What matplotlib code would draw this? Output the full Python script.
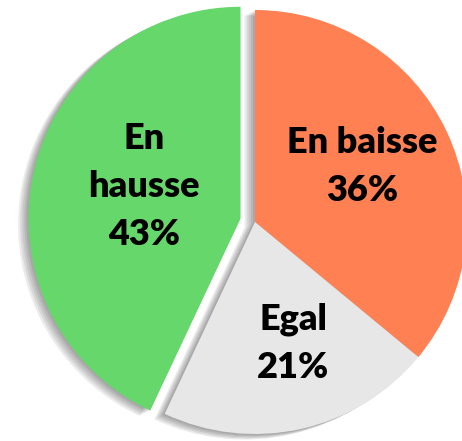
import matplotlib.pyplot as plt
import matplotlib.patheffects as pe
import numpy as np

labels = ['En baisse', 'Egal', 'En\nhausse']
values = [36, 21, 43]
colors = ['#FF8153', '#E7E7E7', '#66D76A']
explode = [0, 0, 0.07]
label_dist = [0.57, 0.6, 0.48]
label_turn = [2, 5, -6]  # degrees, nudges labels off the mid-angle

fig = plt.figure(figsize=(4.62, 4.41), dpi=100)
ax = fig.add_axes([0, 0, 1, 1])

shadow = [pe.SimplePatchShadow(offset=(-1.5 * k, -0.8 * k), shadow_rgbFace='black', alpha=0.08)
          for k in range(1, 6)] + [pe.Normal()]

wedges, _ = ax.pie(values, colors=colors, explode=explode, startangle=90,
                   counterclock=False, wedgeprops=dict(linewidth=0))
for w in wedges:
    w.set_path_effects(shadow)

for w, lab, v, d, t in zip(wedges, labels, values, label_dist, label_turn):
    ang = np.deg2rad((w.theta1 + w.theta2) / 2 + t)
    cx, cy = w.center
    ax.text(cx + d * np.cos(ang), cy + d * np.sin(ang), f'{lab}\n{v}%',
            ha='center', va='center', fontsize=26, fontweight='heavy',
            family='Lato', linespacing=1.55, color='black')

ax.set_aspect('auto')
ax.set_xlim(-255 / 212, 207 / 212)
ax.set_ylim(-219 / 212, 222 / 212)
ax.axis('off')

fig.savefig('out.png', dpi=100)
